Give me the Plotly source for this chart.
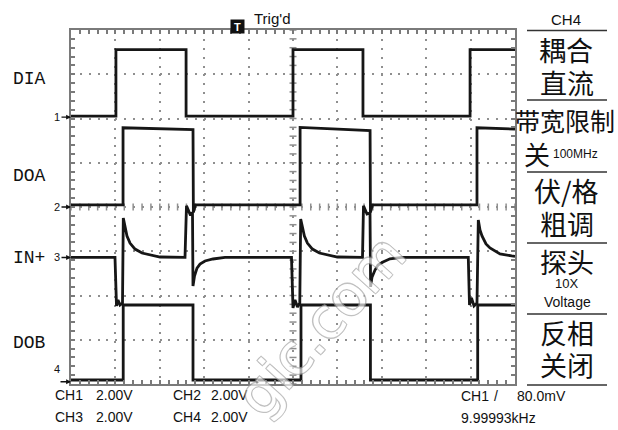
import plotly.graph_objects as go

# ---- data: time in microseconds (25 us/div), voltage in volts (2.00 V/div)
ch1_t = [0, 25.3, 25.3, 64.8, 64.8, 125.0, 125.0, 164.4, 164.4, 224.7, 224.7, 250]
ch1_v = [0.05, 0.05, 3.05, 3.05, 0.05, 0.05, 3.05, 3.05, 0.05, 0.05, 3.05, 3.05]

ch2_t = [0, 29.3, 29.3, 68.7, 68.9, 70.0, 129.0, 129.0, 168.4, 168.6, 169.7, 228.6, 228.6, 250]
ch2_v = [0.1, 0.1, 3.58, 3.5, -0.25, 0.1, 0.1, 3.6, 3.45, -0.25, 0.1, 0.1, 3.58, 3.52]

ch3_t = [0, 24.77, 25.62, 26.46, 27.59, 29.0, 29.45, 30.41, 31.53, 33.22, 36.04, 39.98, 44.48, 50.11,
         64.19, 65.03, 67.0, 68.41, 68.69, 69.54, 70.95, 72.63, 75.45, 79.95, 86.71,
         124.15, 125.0, 126.13, 127.53, 128.82, 129.33, 130.29, 131.42, 133.1, 135.92, 139.86, 144.37, 150.0,
         164.13, 164.69, 166.67, 168.36, 168.7, 169.48, 171.17, 172.86, 175.67, 179.62, 186.37,
         223.7, 224.38, 225.5, 226.91, 228.6, 229.34, 230.29, 231.42, 233.67, 235.92, 241.55, 248.14, 250.0]
ch3_v = [0.0, 0.0, -2.19, -1.92, -2.15, -2.06, 1.78, 1.33, 0.97, 0.65, 0.38, 0.2, 0.11, 0.02,
         0.0, 2.33, 1.96, 2.01, -1.29, -0.84, -0.48, -0.3, -0.16, -0.07, 0.0,
         0.0, -2.28, -1.92, -2.24, -2.06, 1.74, 1.33, 0.97, 0.65, 0.38, 0.2, 0.11, 0.02,
         0.0, 2.33, 1.96, 2.01, -1.33, -0.89, -0.57, -0.34, -0.21, -0.06, 0.0,
         0.0, -2.15, -1.83, -2.19, -2.06, 1.69, 1.24, 0.97, 0.61, 0.43, 0.16, 0.07, 0.05]

ch4_t = [0, 29.4, 29.4, 68.7, 68.7, 129.5, 129.5, 168.6, 168.6, 229.0, 229.0, 250]
ch4_v = [0.08, 0.08, 3.47, 3.47, 0.08, 0.08, 3.47, 3.47, 0.08, 0.08, 3.47, 3.47]

channel_names = ["DIA", "DOA", "IN+", "DOB"]
channel_offsets_div = [6.03, 4.0, 2.86, 0.05]   # ground marker positions on screen (divisions)
volts_per_div = 2.0
us_per_div = 25.0

bottom_left = [["CH1", "2.00V"], ["CH2", "2.00V"], ["CH3", "2.00V"], ["CH4", "2.00V"]]
trigger_text = ["CH1", "/", "80.0mV"]
freq_text = "9.99993kHz"
menu_title = "CH4"

series = [(ch1_t, ch1_v), (ch2_t, ch2_v), (ch3_t, ch3_v), (ch4_t, ch4_v)]

# ---- layout geometry (pixels of the 618x430 screen)
L, R, T, B = 71, 515, 30, 384
W, H = 618, 430


def px(x):
    return (x - L) / (R - L)


def py(y):
    return (B - y) / (B - T)


fig = go.Figure()

TRACE = "#161616"
GRID = "#8f8f8f"
FRAME = "#7a7a7a"

# graticule ticks on the centre cross
cx_t = [i * us_per_div / 5 for i in range(51)]
fig.add_trace(go.Scatter(x=cx_t, y=[4] * len(cx_t), mode="markers", hoverinfo="skip",
                         marker=dict(symbol="line-ns", size=5, line=dict(width=1.5, color=GRID))))
cy_d = [i * 0.2 for i in range(41)]
fig.add_trace(go.Scatter(x=[5 * us_per_div] * len(cy_d), y=cy_d, mode="markers", hoverinfo="skip",
                         marker=dict(symbol="line-ew", size=5, line=dict(width=1.5, color=GRID))))

for (t, v), off, name in zip(series, channel_offsets_div, channel_names):
    fig.add_trace(go.Scatter(x=t, y=[off + val / volts_per_div for val in v], mode="lines", name=name,
                             line=dict(color=TRACE, width=2.8), hoverinfo="skip"))

# empty trace so the top/right tick axes get drawn
fig.add_trace(go.Scatter(x=[None], y=[None], xaxis="x2", yaxis="y2", mode="lines", hoverinfo="skip"))

tick_common = dict(ticks="inside", ticklen=4, tickcolor=FRAME, tickwidth=1.5, showticklabels=False,
                   fixedrange=True, zeroline=False)
axis_common = dict(showgrid=True, gridcolor=GRID, gridwidth=1.5, showline=True,
                   linecolor=FRAME, linewidth=1.5, mirror=True, **tick_common)
xminor = dict(dtick=us_per_div / 5, ticks="inside", ticklen=4, tickcolor=FRAME, tickwidth=1.5, showgrid=False)
yminor = dict(dtick=0.2, ticks="inside", ticklen=4, tickcolor=FRAME, tickwidth=1.5, showgrid=False)

fig.update_layout(
    xaxis=dict(range=[0, 10 * us_per_div], dtick=us_per_div, tick0=0, griddash="2px,6.88px",
               minor=xminor, **axis_common),
    yaxis=dict(range=[0, 8], dtick=1, tick0=0, griddash="2px,6.85px", minor=yminor, **axis_common),
    xaxis2=dict(range=[0, 10 * us_per_div], dtick=us_per_div, tick0=0, overlaying="x", side="top",
                anchor="y2", showgrid=False, showline=False, minor=xminor, **tick_common),
    yaxis2=dict(range=[0, 8], dtick=1, tick0=0, overlaying="y", side="right", anchor="x2",
                showgrid=False, showline=False, minor=yminor, **tick_common),
)

ann = []
MONO = "Liberation Mono, Courier New, monospace"
SANS = "Liberation Sans, Arial, sans-serif"
CJK = "Noto Sans CJK SC, sans-serif"
INK = "#111111"


def text(x, y, s, size, family, xanchor="center", color=INK, **kw):
    ann.append(dict(x=px(x), y=py(y), xref="paper", yref="paper", text=s, showarrow=False,
                    xanchor=xanchor, yanchor="middle", font=dict(size=size, family=family, color=color), **kw))


# channel labels on the left
label_y = [79, 176, 258, 343]
for name, yy in zip(channel_names, label_y):
    text(29, yy, name, 18, MONO)

# ground markers
for i, off in enumerate(channel_offsets_div[:3]):
    ann.append(dict(x=0, y=off, xref="paper", yref="y", text=str(i + 1), showarrow=True, ax=-14, ay=0,
                    arrowhead=2, arrowsize=0.7, arrowwidth=1.4, arrowcolor=INK, standoff=0,
                    font=dict(size=11, family=SANS, color=INK)))
ann.append(dict(x=0, y=channel_offsets_div[3], xref="paper", yref="y", text=" ", showarrow=True, ax=-13, ay=0,
                arrowhead=2, arrowsize=0.7, arrowwidth=1.4, arrowcolor=INK, standoff=0, font=dict(size=8)))
text(57, 369, "4", 11, SANS)

# bottom status text
FS = 14
text(53, 395, bottom_left[0][0], FS, SANS, "left")
text(94, 395, bottom_left[0][1], FS, SANS, "left")
text(171, 395, bottom_left[1][0], FS, SANS, "left")
text(209, 395, bottom_left[1][1], FS, SANS, "left")
text(53, 417, bottom_left[2][0], FS, SANS, "left")
text(94, 417, bottom_left[2][1], FS, SANS, "left")
text(171, 417, bottom_left[3][0], FS, SANS, "left")
text(209, 417, bottom_left[3][1], FS, SANS, "left")
text(459, 396, trigger_text[0], FS, SANS, "left")
text(496, 396, trigger_text[1], FS, SANS, "center")
text(515, 396, trigger_text[2], FS, SANS, "left")
text(459, 418, freq_text, FS, SANS, "left")

# top trigger status
ann.append(dict(x=px(237), y=py(19), xref="paper", yref="paper", text="<b>T</b>", showarrow=False,
                bgcolor="#111111", width=13, height=13, borderpad=0,
                font=dict(size=11, family=SANS, color="white")))
text(252, 18, "Trig'd", 15, SANS, "left")

# right-hand menu
text(566, 19, menu_title, 15, SANS)
text(566, 49, "耦合", 27, CJK)
text(567, 82, "直流", 27, CJK)
text(565, 120, "带宽限制", 25, CJK)
text(537, 153, "关", 26, CJK)
text(551, 154, "100MHz", 12, SANS, "left")
text(566, 190, "伏/格", 27, CJK)
text(567, 224, "粗调", 27, CJK)
text(567, 261, "探头", 27, CJK)
text(566, 283, "10X", 13, SANS)
text(567, 302, "Voltage", 14, SANS)
text(567, 332, "反相", 27, CJK)
text(567, 364, "关闭", 27, CJK)

# watermark
ann.append(dict(x=px(320), y=py(325), xref="paper", yref="paper", text="gic.com", showarrow=False,
                xanchor="center", yanchor="middle", textangle=-48, opacity=0.65,
                font=dict(size=56, family="DejaVu Sans, sans-serif", color="white",
                          shadow="-1px -1px 0 #a0a0a0, 1px -1px 0 #a0a0a0, -1px 1px 0 #a0a0a0, 1px 1px 0 #a0a0a0")))

shapes = []
for yy in [30.5, 100, 172, 243, 314, 385]:
    shapes.append(dict(type="line", xref="paper", yref="paper", x0=px(527), x1=px(607), y0=py(yy), y1=py(yy),
                       line=dict(color="#333333", width=1.5)))

fig.update_layout(width=W, height=H, margin=dict(l=L, r=W - R, t=T, b=H - B, autoexpand=False),
                  paper_bgcolor="white", plot_bgcolor="white", showlegend=False,
                  annotations=ann, shapes=shapes)

fig.write_html("out.html", config={"displayModeBar": False},
               post_script="document.body.style.margin='0';document.body.style.padding='0';"
                           "document.body.style.overflow='hidden';")
